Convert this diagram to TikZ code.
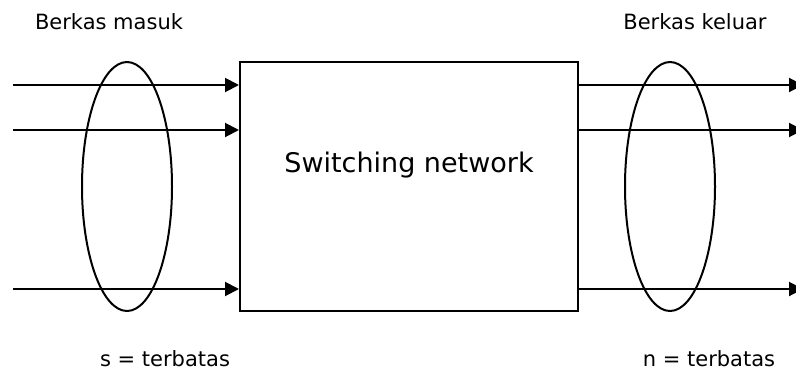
\documentclass[tikz,border=0pt]{standalone}
\usepackage{fontspec}
\setmainfont{DejaVu Sans}
\usetikzlibrary{arrows.meta}
\begin{document}
\begin{tikzpicture}[x=1pt,y=-1pt,
  arr/.style={line width=2pt,-{Triangle[length=14pt,width=14pt]}},
  lbl/.style={anchor=base,inner sep=0pt,font=\fontsize{21}{25}\selectfont},
  big/.style={anchor=base,inner sep=0pt,font=\fontsize{27}{32}\selectfont},
  bundle/.style={line width=2pt}]
\useasboundingbox (0,0) rectangle (796,373);
\clip (0,0) rectangle (796,373);
\fill[white] (0,0) rectangle (796,373);
% box
\node[draw,line width=2pt,minimum width=338pt,minimum height=249pt,inner sep=0pt] (sw) at (409,186.5) {};
\node[big] (swt) at (409,172) {Switching network};
% coordinates
\coordinate (in1) at (13,85);
\coordinate (in2) at (13,130);
\coordinate (in3) at (13,289);
\coordinate (out1) at (803,85);
\coordinate (out2) at (803,130);
\coordinate (out3) at (803,289);
% arrows
\draw[arr] (in1) -- (sw.west |- in1);
\draw[arr] (in2) -- (sw.west |- in2);
\draw[arr] (in3) -- (sw.west |- in3);
\draw[arr] (sw.east |- out1) -- (out1);
\draw[arr] (sw.east |- out2) -- (out2);
\draw[arr] (sw.east |- out3) -- (out3);
% ellipses
\draw[bundle] (127,186.5) ellipse [x radius=45pt, y radius=124.5pt];
\draw[bundle] (670,186.5) ellipse [x radius=45pt, y radius=124.5pt];
% labels
\node[lbl] (lin) at (109,29) {Berkas masuk};
\node[lbl] (lout) at (695,29) {Berkas keluar};
\node[lbl] (ls) at (165,366) {s = terbatas};
\node[lbl] (ln) at (709,366) {n = terbatas};
\end{tikzpicture}
\end{document}
